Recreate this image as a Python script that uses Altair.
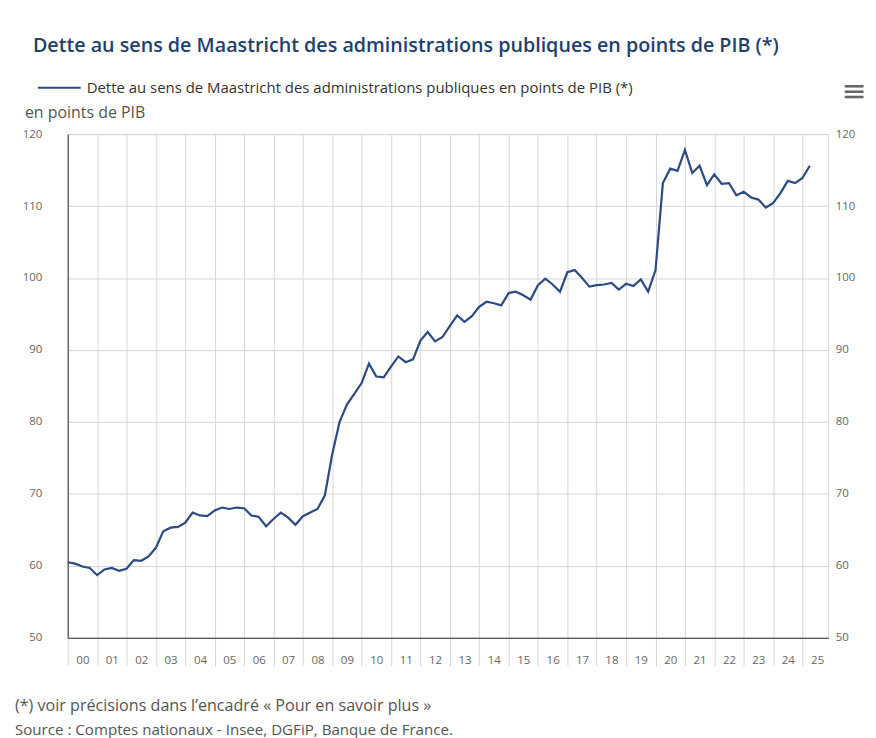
import altair as alt
import pandas as pd

# ---------------- data ----------------
year_labels = ["00", "01", "02", "03", "04", "05", "06", "07", "08", "09",
               "10", "11", "12", "13", "14", "15", "16", "17", "18", "19",
               "20", "21", "22", "23", "24", "25"]

# quarterly values, 2000 T1 -> 2025 T2 (points de PIB)
debt = [
    60.5, 60.3, 59.9, 59.7,   # 2000
    58.7, 59.5, 59.7, 59.3,   # 2001
    59.6, 60.8, 60.7, 61.3,   # 2002
    62.5, 64.8, 65.3, 65.4,   # 2003
    66.0, 67.4, 67.0, 66.9,   # 2004
    67.7, 68.1, 67.9, 68.1,   # 2005
    68.0, 67.0, 66.8, 65.5,   # 2006
    66.5, 67.4, 66.7, 65.7,   # 2007
    66.9, 67.4, 67.9, 69.8,   # 2008
    75.5, 80.0, 82.4, 83.9,   # 2009
    85.4, 88.1, 86.3, 86.2,   # 2010
    87.7, 89.1, 88.3, 88.7,   # 2011
    91.3, 92.5, 91.2, 91.8,   # 2012
    93.3, 94.8, 93.9, 94.7,   # 2013
    96.0, 96.7, 96.5, 96.2,   # 2014
    97.9, 98.1, 97.6, 97.0,   # 2015
    99.0, 99.9, 99.1, 98.1,   # 2016
    100.8, 101.1, 100.0, 98.8,  # 2017
    99.0, 99.1, 99.3, 98.4,   # 2018
    99.2, 98.9, 99.8, 98.1,   # 2019
    101.1, 113.2, 115.2, 114.9,  # 2020
    117.8, 114.6, 115.6, 112.9,  # 2021
    114.4, 113.1, 113.2, 111.5,  # 2022
    112.0, 111.2, 110.9, 109.8,  # 2023
    110.4, 111.8, 113.5, 113.2,  # 2024
    113.9, 115.6,             # 2025
]

y_ticks = [50, 60, 70, 80, 90, 100, 110, 120]

series_name = "Dette au sens de Maastricht des administrations publiques en points de PIB (*)"
title_text = "Dette au sens de Maastricht des administrations publiques en points de PIB (*)"
unit_text = "en points de PIB"
note_text = "(*) voir précisions dans l’encadré « Pour en savoir plus »"
source_text = "Source : Comptes nationaux - Insee, DGFiP, Banque de France."
menu_text = "≡"

df = pd.DataFrame({"q": list(range(len(debt))), "v": debt, "s": series_name})

# ---------------- layout ----------------
W, H = 764, 506
FONT = "Open Sans"
GRID = "#d6d6d6"
LABEL = "#666666"
LINE = "#2b4a86"

boundaries = list(range(0, 4 * len(year_labels) - 3, 4))   # 0 .. 100
label_expr = "[" + ",".join("'%s'" % l for l in year_labels) + "][datum.value / 4] || ''"

x_enc = alt.X(
    "q:Q",
    scale=alt.Scale(domain=[0, 103.5], nice=False, zero=False),
    axis=alt.Axis(
        values=boundaries, labelExpr=label_expr, title=None,
        grid=True, gridColor=GRID, gridWidth=1,
        ticks=True, tickColor=GRID, tickSize=28,
        labelPadding=-11, labelOffset=14.75, labelAlign="center",
        labelFlush=False, labelOverlap=False,
        labelColor=LABEL, labelFontSize=11.5, labelFont=FONT,
        domainColor="#333333", domainWidth=1,
    ),
)

y_scale = alt.Scale(domain=[y_ticks[0], y_ticks[-1]], nice=False, zero=False)

line = alt.Chart(df).mark_line(strokeWidth=2.2).encode(
    x=x_enc,
    y=alt.Y("v:Q", scale=y_scale,
            axis=alt.Axis(values=y_ticks, title=None, orient="left",
                          grid=True, gridColor=GRID, gridWidth=1,
                          ticks=False, labelPadding=26,
                          labelColor=LABEL, labelFontSize=11.5, labelFont=FONT,
                          domainColor="#333333", domainWidth=1)),
    color=alt.Color("s:N", scale=alt.Scale(range=[LINE]),
                    legend=alt.Legend(orient="none", legendX=-31, legendY=-69,
                                      title=None, symbolType="stroke",
                                      symbolSize=1849, symbolStrokeWidth=2,
                                      labelFontSize=15, labelLimit=900,
                                      labelColor="#333333", labelFont=FONT,
                                      labelOffset=5)),
)

right_axis = alt.Chart(df).mark_line(strokeOpacity=0).encode(
    x=x_enc,
    y=alt.Y("v:Q", scale=y_scale,
            axis=alt.Axis(values=y_ticks, title=None, orient="right",
                          grid=False, ticks=False, domain=False, labelPadding=7,
                          labelColor=LABEL, labelFontSize=11.5, labelFont=FONT)),
)


def txt(text, px, py, size, color, align="left", font=FONT, weight="normal"):
    return alt.Chart(pd.DataFrame({"t": [text]})).mark_text(
        align=align, baseline="middle", font=font, fontSize=size,
        color=color, fontWeight=weight,
    ).encode(x=alt.value(px), y=alt.value(py), text="t:N")


title = txt(title_text, -35, -88, 19.8, "#213f6f", weight=600)
unit = txt(unit_text, -43, -21, 16, "#555555")
note = txt(note_text, -53, 575, 16.2, "#555555")
source = txt(source_text, -53, 599, 15.2, "#555555")
menu = txt(menu_text, 790, -42, 30, "#666666", align="center", font="DejaVu Sans")

chart = alt.layer(line, right_axis, title, unit, note, source, menu).resolve_scale(
    y="independent"
).properties(
    width=W, height=H,
    padding={"left": 60, "top": 125, "right": 40, "bottom": 99},
    autosize=alt.AutoSizeParams(type="none"),
    background="white",
).configure_view(stroke=GRID)

chart.save("out.html", embed_options={"renderer": "svg", "actions": False})
